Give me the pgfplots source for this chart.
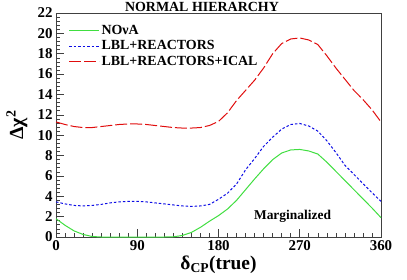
\documentclass[border=0pt]{standalone}
\usepackage{fontspec}
\setmainfont{Liberation Serif}
\usepackage{pgfplots}
\pgfplotsset{compat=1.18}
\usepackage{pgfplotstable}
\definecolor{cgreen}{rgb}{0.25,0.87,0.25}
\definecolor{cblue}{rgb}{0.05,0.05,0.9}
\definecolor{cred}{rgb}{0.88,0.05,0.05}

\pgfplotstableread{
x y
0 1.8
10 1.15
20 0.6
30 0.25
40 0.05
50 0.0
60 0.0
70 0.0
80 0.0
90 0.0
100 0.0
110 0.0
120 0.0
130 0.02
140 0.15
150 0.45
160 0.95
170 1.55
180 2.1
190 2.75
200 3.6
210 4.65
220 5.7
230 6.7
240 7.6
250 8.25
260 8.55
270 8.6
280 8.45
290 8.15
300 7.35
310 6.45
320 5.55
330 4.65
340 3.75
350 2.85
360 1.9
}\nova

\pgfplotstableread{
x y
0 3.45
10 3.25
20 3.1
30 3.05
40 3.1
50 3.2
60 3.35
70 3.45
80 3.5
90 3.5
100 3.45
110 3.35
120 3.25
130 3.15
140 3.05
150 3.0
160 3.05
170 3.2
180 3.7
190 4.3
200 5.2
210 6.6
220 7.7
230 8.9
240 9.8
250 10.6
260 11.05
270 11.15
280 10.9
290 10.4
300 9.45
310 8.3
320 7.05
330 6.15
340 5.25
350 4.35
360 3.5
}\lbl

\pgfplotstableread{
x y
0 11.3
10 11.05
20 10.85
30 10.75
40 10.75
50 10.85
60 10.95
70 11.05
80 11.1
90 11.1
100 11.05
110 10.95
120 10.85
130 10.75
140 10.7
150 10.7
160 10.75
170 10.95
180 11.35
190 12.2
200 13.4
210 14.4
220 15.4
230 16.6
240 18.0
250 19.0
260 19.45
270 19.55
280 19.35
290 18.9
300 17.8
310 16.6
320 15.5
330 14.4
340 13.5
350 12.5
360 11.3
}\ical

\begin{document}
\begin{tikzpicture}
\begin{axis}[
  scale only axis, width=325bp, height=224bp,
  xmin=0, xmax=360, ymin=0, ymax=22,
  xtick={0,90,180,270,360}, minor x tick num=8,
  ytick={0,2,...,22}, minor y tick num=4,
  tick align=inside, xtick pos=bottom, ytick pos=left,
  major tick length=8bp, minor tick length=4bp,
  tick style={black!75, line width=0.6bp},
  axis line style={black!75, line width=0.9bp},
  ticklabel style={font=\fontsize{15}{15}\selectfont\bfseries},
  /pgf/number format/assume math mode=true,
  xlabel={δ\textsubscript{CP}(true)},
  xlabel style={font=\fontsize{19.5}{20}\selectfont\bfseries, at={(axis description cs:0.5,-0.143)}, anchor=base},
  ylabel={Δχ\textsuperscript{2}},
  ylabel style={font=\fontsize{20}{20}\selectfont\bfseries, at={(axis description cs:-0.12,0.5)}, anchor=center},
  clip=false,
  legend style={at={(rel axis cs:0.035,0.96)}, anchor=north west, draw=none, fill=none,
    font=\fontsize{14}{14}\selectfont\bfseries, row sep=0.8bp, inner sep=1bp},
  legend cell align=left,
  legend image code/.code={\draw[#1] plot coordinates {(0bp,0bp) (15bp,0bp) (30bp,0bp)};},
]
\addplot[cgreen, line width=1bp] table {\nova};
\addlegendentry{NOνA}
\addplot[cblue, line width=1bp, dash pattern=on 2.5bp off 2bp] table {\lbl};
\addlegendentry{LBL+REACTORS}
\addplot[cred, line width=1bp, dash pattern=on 12bp off 3bp] table {\ical};
\addlegendentry{LBL+REACTORS+ICAL}
\node[font=\fontsize{14}{14}\selectfont\bfseries] at (rel axis cs:0.449,1.029) {NORMAL HIERARCHY};
\node[font=\fontsize{13.5}{13.5}\selectfont\bfseries, anchor=base] at (axis cs:262,1.74) {Marginalized};
\end{axis}
\pgfresetboundingbox
\useasboundingbox (-56bp,-43bp) rectangle (351bp,237bp);
\end{tikzpicture}
\end{document}
